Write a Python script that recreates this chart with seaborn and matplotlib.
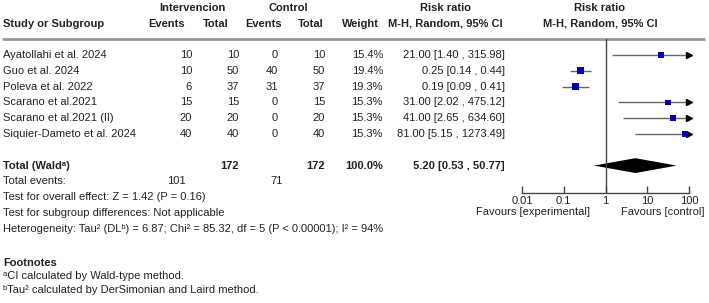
import numpy as np
import pandas as pd
import matplotlib
matplotlib.use("Agg")
import matplotlib.pyplot as plt
import seaborn as sns

# Study data
studies = ["Ayatollahi et al. 2024", "Guo et al. 2024", "Poleva et al. 2022",
           "Scarano et al.2021", "Scarano et al.2021 (II)", "Siquier-Dameto et al. 2024"]
int_events = [10, 10, 6, 15, 20, 40]
int_total = [10, 50, 37, 15, 20, 40]
ctl_events = [0, 40, 31, 0, 0, 0]
ctl_total = [10, 50, 37, 15, 20, 40]
weights = [15.4, 19.4, 19.3, 15.3, 15.3, 15.3]
rr = [21.00, 0.25, 0.19, 31.00, 41.00, 81.00]
rr_lo = [1.40, 0.14, 0.09, 2.02, 2.65, 5.15]
rr_hi = [315.98, 0.44, 0.41, 475.12, 634.60, 1273.49]

total_rr, total_lo, total_hi = 5.20, 0.53, 50.77
x_ticks = [0.01, 0.1, 1, 10, 100]
tick_labels = ["0.01", "0.1", "1", "10", "100"]

df = pd.DataFrame({"study": studies, "rr": rr, "lo": rr_lo, "hi": rr_hi,
                   "weight": weights, "row": np.arange(len(studies))})

sns.set_theme(style="white")
plt.rcParams["font.family"] = ["Liberation Sans", "DejaVu Sans"]
plt.rcParams["font.size"] = 8
txt_col = "#222222"

W, H = 709, 303
fig = plt.figure(figsize=(W / 100, H / 100), dpi=100)

# text layer in pixel coordinates
ax = fig.add_axes([0, 0, 1, 1])
ax.set_xlim(0, W)
ax.set_ylim(H, 0)
ax.axis("off")

row0, step = 55, 15.8
def ry(i):
    return row0 + step * i

def t(x, y, s, ha="left", bold=False):
    ax.text(x, y, s, ha=ha, va="center", fontsize=8, color=txt_col,
            fontweight="bold" if bold else "normal")

# headers
t(192, 8, "Intervencion", ha="center", bold=True)
t(288, 8, "Control", ha="center", bold=True)
t(445, 8, "Risk ratio", ha="center", bold=True)
t(600, 8, "Risk ratio", ha="center", bold=True)
t(3, 24, "Study or Subgroup", bold=True)
t(167, 24, "Events", ha="center", bold=True)
t(216, 24, "Total", ha="center", bold=True)
t(264, 24, "Events", ha="center", bold=True)
t(311, 24, "Total", ha="center", bold=True)
t(360, 24, "Weight", ha="center", bold=True)
t(445, 24, "M-H, Random, 95% CI", ha="center", bold=True)
t(600, 24, "M-H, Random, 95% CI", ha="center", bold=True)
ax.hlines(39, 2, 705, color="#999999", lw=2)

# study rows
for i in range(len(studies)):
    y = ry(i)
    t(3, y, studies[i])
    t(192, y, str(int_events[i]), ha="right")
    t(239, y, str(int_total[i]), ha="right")
    t(278, y, str(ctl_events[i]), ha="right")
    t(325, y, str(ctl_total[i]), ha="right")
    t(383, y, f"{weights[i]:.1f}%", ha="right")
    t(505, y, f"{rr[i]:.2f} [{rr_lo[i]:.2f} , {rr_hi[i]:.2f}]", ha="right")

# total rows
yt = ry(7)
t(3, yt, "Total (Wald\u1d43)", bold=True)
t(239, yt, str(sum(int_total)), ha="right", bold=True)
t(325, yt, str(sum(ctl_total)), ha="right", bold=True)
t(383, yt, "100.0%", ha="right", bold=True)
t(505, yt, f"{total_rr:.2f} [{total_lo:.2f} , {total_hi:.2f}]", ha="right", bold=True)
t(3, ry(8), "Total events:")
t(186, ry(8), str(sum(int_events)), ha="right")
t(283, ry(8), str(sum(ctl_events)), ha="right")
t(3, ry(9), "Test for overall effect: Z = 1.42 (P = 0.16)")
t(3, ry(10), "Test for subgroup differences: Not applicable")
t(3, ry(11), "Heterogeneity: Tau\u00b2 (DL\u1d47) = 6.87; Chi\u00b2 = 85.32, df = 5 (P < 0.00001); I\u00b2 = 94%")

t(3, 263, "Footnotes", bold=True)
t(3, 276, "\u1d43CI calculated by Wald-type method.")
t(3, 290, "\u1d47Tau\u00b2 calculated by DerSimonian and Laird method.")

t(533, 212, "Favours [experimental]", ha="center")
t(663, 212, "Favours [control]", ha="center")

# forest panel
x0, x1, ytop, ybot = 522, 689, 39, 193
fx = fig.add_axes([x0 / W, (H - ybot) / H, (x1 - x0) / W, (ybot - ytop) / H])
fx.set_facecolor("none")
fx.set_xscale("log")
fx.set_xlim(x_ticks[0], x_ticks[-1])
fx.set_ylim((ybot - row0) / step, (ytop - row0) / step)
for s in ["top", "right", "left"]:
    fx.spines[s].set_visible(False)
fx.spines["bottom"].set_color("#444444")
fx.spines["bottom"].set_linewidth(1)
fx.set_xticks(x_ticks)
fx.set_xticklabels(tick_labels)
fx.minorticks_off()
fx.tick_params(axis="x", direction="in", length=5, width=1, color="#444444",
               labelsize=8, labelcolor=txt_col, pad=2, bottom=True)
fx.set_yticks([])
fx.axvline(1, color="#444444", lw=1)

xmax = x_ticks[-1]
clipped_hi = df["hi"].clip(upper=xmax)
fx.hlines(df["row"], df["lo"], clipped_hi, color="#666666", lw=1)
arrows = df[df["hi"] > xmax]
fx.plot(np.full(len(arrows), xmax), arrows["row"], ls="none", marker=">",
        color="black", markersize=4, clip_on=False)
sns.scatterplot(data=df, x="rr", y="row", size="weight", sizes=(16, 26),
                marker="s", color="#0000b0", edgecolor="#0000b0", linewidth=0,
                legend=False, ax=fx, zorder=3)
fx.set_xlabel("")
fx.set_ylabel("")

# pooled diamond
h = 0.47
fx.fill([total_lo, total_rr, total_hi, total_rr], [7, 7 - h, 7, 7 + h],
        color="black", lw=0)

fig.savefig("out.png", dpi=100)
